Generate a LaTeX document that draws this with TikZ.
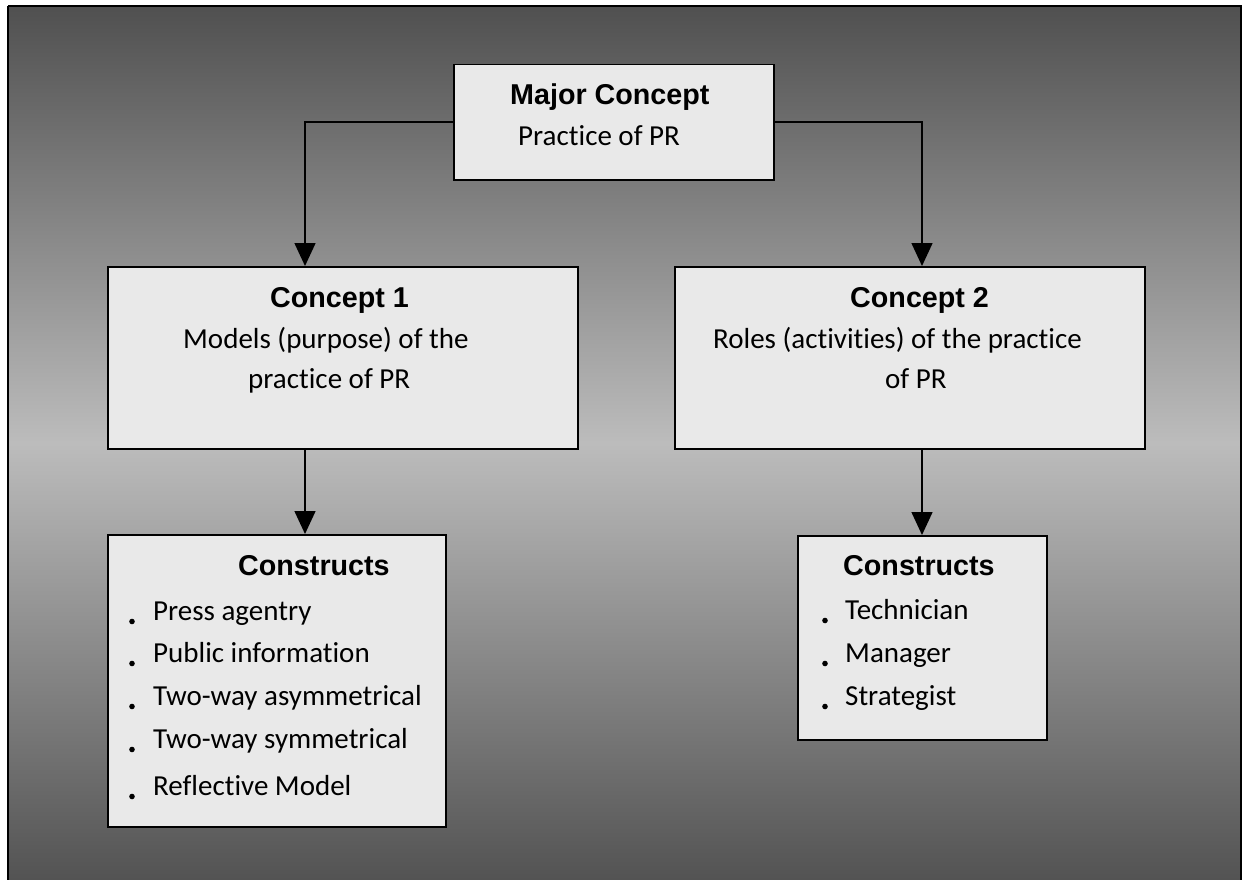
\documentclass[tikz,border=0pt]{standalone}
\usepackage{fontspec}
\setmainfont{Carlito}[Ligatures=NoCommon]
\newfontfamily\headfont{Liberation Sans}
\usetikzlibrary{arrows.meta}
\definecolor{bgtop}{HTML}{505050}
\definecolor{bgmid}{HTML}{BCBCBC}
\definecolor{bgbot}{HTML}{535353}
\definecolor{boxfill}{HTML}{E9E9E9}
\tikzset{
  box/.style={draw=black, line width=1.5pt, fill=boxfill, anchor=north west, inner sep=0pt},
  head/.style={anchor=base west, inner sep=0pt, font=\headfont\bfseries\fontsize{28.7}{34}\selectfont},
  body/.style={anchor=base west, inner sep=0pt, font=\fontsize{29}{35}\selectfont},
  arr/.style={line width=1.5pt, -{Triangle[length=23pt,width=21pt]}},
  dot/.style={fill=black}
}
\begin{document}
\begin{tikzpicture}[x=1pt,y=-1pt]
\useasboundingbox (0,0) rectangle (1244,880);
% background
\shade[top color=bgtop, bottom color=bgbot, middle color=bgmid] (8,6) rectangle (1241,880);
\draw[line width=2.2pt] (8,6) -- (8,890) (8,6) -- (1241,6) -- (1241,890);
% boxes
\node[box, minimum width=320pt, minimum height=115pt] (major) at (453,64) {};
\node[box, minimum width=470pt, minimum height=182pt] (c1) at (107,266) {};
\node[box, minimum width=470pt, minimum height=182pt] (c2) at (674,266) {};
\node[box, minimum width=338pt, minimum height=292pt] (k1) at (107,534) {};
\node[box, minimum width=249pt, minimum height=204pt] (k2) at (797,535) {};
% connector end points
\coordinate (c1in) at (305,266);
\coordinate (c2in) at (922,266);
\coordinate (c1out) at (305,448);
\coordinate (k1in) at (305,534);
\coordinate (c2out) at (922,448);
\coordinate (k2in) at (922,535);
\draw[arr] (major.west) -| (c1in);
\draw[arr] (major.east) -| (c2in);
\draw[arr] (c1out) -- (k1in);
\draw[arr] (c2out) -- (k2in);
% texts
\node[head] (mh) at (510,105) {Major Concept};
\node[body] (mb) at (518,145) {Practice of PR};
\node[head] (c1h) at (270,307) {Concept 1};
\node[body] (c1a) at (183,348) {Models (purpose) of the};
\node[body] (c1b) at (248,388) {practice of PR};
\node[head] (c2h) at (850,307) {Concept 2};
\node[body] (c2a) at (713,348) {Roles (activities) of the practice};
\node[body] (c2b) at (885,388) {of PR};
\node[head] (k1h) at (238,575) {Constructs};
\node[head] (k2h) at (843,575) {Constructs};
\node[body] (k1a) at (153,620) {Press agentry};
\node[body] (k1b) at (153,662) {Public information};
\node[body] (k1c) at (153,705) {Two-way asymmetrical};
\node[body] (k1d) at (153,748) {Two-way symmetrical};
\node[body] (k1e) at (153,795) {Reflective Model};
\node[body] (k2a) at (845,619) {Technician};
\node[body] (k2b) at (845,662) {Manager};
\node[body] (k2c) at (845,705) {Strategist};
% bullets
\foreach \y in {620,662,705,748,795} {\fill[dot] (132,\y+1.5) circle (2.8);}
\foreach \y in {619,662,705} {\fill[dot] (825,\y+1.5) circle (2.8);}
\end{tikzpicture}
\end{document}
